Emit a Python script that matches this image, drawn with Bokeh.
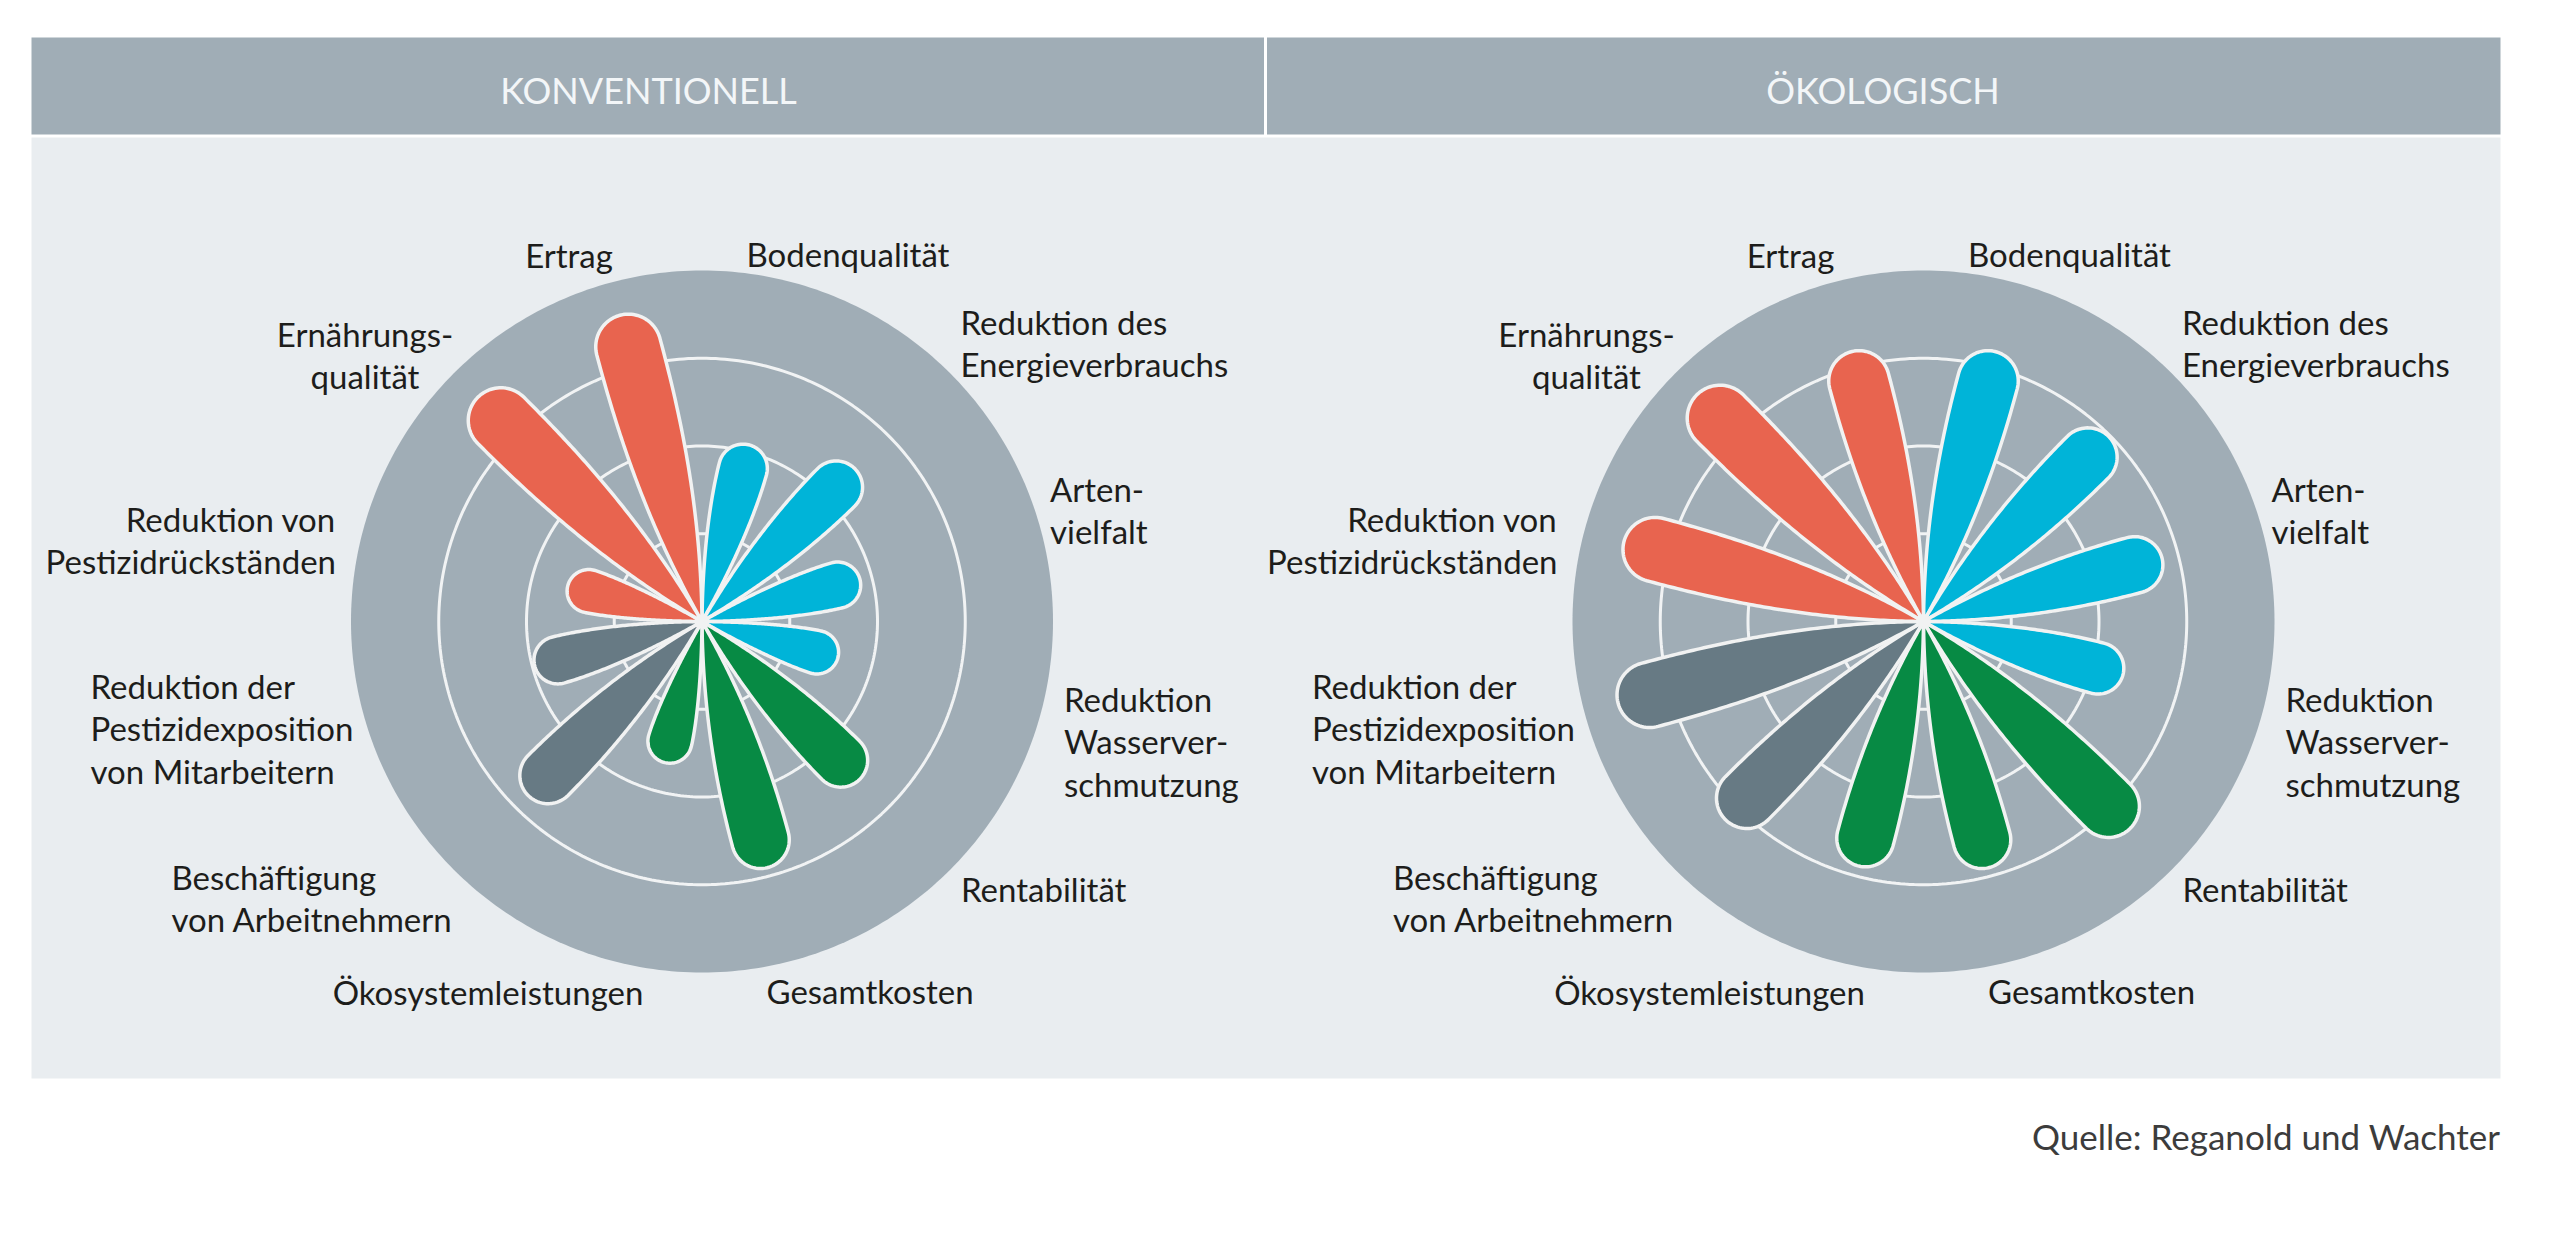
import numpy as np
from bokeh.plotting import figure
from bokeh.models import Range1d
from bokeh.embed import file_html
from bokeh.resources import INLINE
from bokeh.core.properties import value

# ---------------- data ----------------
panel_titles = ["KONVENTIONELL", "ÖKOLOGISCH"]
criteria = [
    "Bodenqualität",
    "Reduktion des Energieverbrauchs",
    "Artenvielfalt",
    "Reduktion Wasserverschmutzung",
    "Rentabilität",
    "Gesamtkosten",
    "Ökosystemleistungen",
    "Beschäftigung von Arbeitnehmern",
    "Reduktion der Pestizidexposition von Mitarbeitern",
    "Reduktion von Pestizidrückständen",
    "Ernährungsqualität",
    "Ertrag",
]
label_lines = [
    ["Bodenqualität"],
    ["Reduktion des", "Energieverbrauchs"],
    ["Arten-", "vielfalt"],
    ["Reduktion", "Wasserver-", "schmutzung"],
    ["Rentabilität"],
    ["Gesamtkosten"],
    ["Ökosystemleistungen"],
    ["Beschäftigung", "von Arbeitnehmern"],
    ["Reduktion der", "Pestizidexposition", "von Mitarbeitern"],
    ["Reduktion von", "Pestizidrückständen"],
    ["Ernährungs-", "qualität"],
    ["Ertrag"],
]
groups = ["Umwelt"] * 4 + ["Wirtschaft"] * 3 + ["Soziales"] * 2 + ["Produktion"] * 3
konventionell = [2.10, 2.48, 1.88, 1.62, 2.56, 2.92, 1.68, 2.82, 1.99, 1.60, 3.63, 3.63]
oekologisch = [3.20, 3.00, 2.83, 2.37, 3.35, 2.92, 2.90, 3.21, 3.62, 3.55, 3.67, 3.20]
ring_levels = [1, 2, 3]
scale_max = 4
source_text = "Quelle: Reganold und Wachter"

group_colors = {
    "Umwelt": "#00B4D8",
    "Wirtschaft": "#078A44",
    "Soziales": "#677A84",
    "Produktion": "#E8644F",
}

# ---------------- layout ----------------
W, H = 2544, 1231
LEFT, RIGHT = 31, 2500
HEAD_TOP, HEAD_BOT = 37, 134
BODY_TOP, BODY_BOT = 137, 1078
DIV_X = 1265
centers = [(701.5, 621.0), (1923.0, 621.0)]
DISK_R = 351.0
UNIT = DISK_R / scale_max
LINE_H = 42.5
FONT = value("Lato")
LABEL_SHIFT = -12  # baseline correction

# label anchors relative to the flower centre: (dx, dy of first baseline, align)
label_layout = [
    (44.5, -356, "left"),
    (258.5, -288, "left"),
    (348, -121, "left"),
    (362, 89, "left"),
    (259, 279, "left"),
    (64.5, 381, "left"),
    (-214, 382, "center"),
    (-530.5, 267, "left"),
    (-611.5, 76, "left"),
    (-366, -91, "right"),
    (-337, -276, "center"),
    (-133, -355, "center"),
]

p = figure(width=W, height=H, x_range=Range1d(0, W), y_range=Range1d(H, 0),
           output_backend="svg", toolbar_location=None, min_border=0)
p.axis.visible = False
p.xgrid.visible = False
p.ygrid.visible = False
p.outline_line_color = None
p.background_fill_color = "white"
p.border_fill_color = "white"

# header bands and body panel
p.quad(left=[LEFT, DIV_X + 1.5], right=[DIV_X - 1.5, RIGHT], top=[HEAD_TOP] * 2,
       bottom=[HEAD_BOT] * 2, fill_color="#A0ADB6", line_color=None)
p.quad(left=[LEFT], right=[RIGHT], top=[BODY_TOP], bottom=[BODY_BOT],
       fill_color="#E9EDF0", line_color=None)

p.text(x=[(LEFT + DIV_X) / 2, (DIV_X + RIGHT) / 2], y=[89, 89], text=panel_titles,
       text_align="center", text_baseline="alphabetic", text_font=FONT,
       text_font_size="36px", text_color="#F3F6F8")

theta_full = np.linspace(0, 2 * np.pi, 361)
HALF_OPEN = np.tan(np.radians(14.5))


def petal(cx, cy, angle_deg, length_u):
    L = length_u * UNIT - 1.5
    rt = 13 + 0.062 * L
    d = L - rt
    q = max(1.2, HALF_OPEN * d / rt)
    u1 = np.linspace(0, d, 80)
    w1 = rt * (1 - (1 - u1 / d) ** q)
    t = np.linspace(np.pi / 2, -np.pi / 2, 50)
    u2 = d + rt * np.cos(t)
    w2 = rt * np.sin(t)
    u = np.concatenate([u1, u2, u1[::-1]])
    v = np.concatenate([w1, w2, -w1[::-1]])
    a = np.radians(angle_deg)
    ex, ey = np.sin(a), -np.cos(a)
    qx, qy = np.cos(a), np.sin(a)
    return list(cx + u * ex + v * qx), list(cy + u * ey + v * qy)


for (cx, cy), vals in zip(centers, [konventionell, oekologisch]):
    # disk
    p.patch(x=cx + DISK_R * np.cos(theta_full), y=cy + DISK_R * np.sin(theta_full),
            fill_color="#A0ADB6", line_color=None)
    # rings
    for lvl in ring_levels:
        r = lvl * UNIT
        p.line(x=cx + r * np.cos(theta_full), y=cy + r * np.sin(theta_full),
               line_color="#F1F3F4", line_width=3)
    # petals
    xs, ys, cols = [], [], []
    for i, v in enumerate(vals):
        px_, py_ = petal(cx, cy, 15 + 30 * i, v)
        xs.append(px_)
        ys.append(py_)
        cols.append(group_colors[groups[i]])
    p.patches(xs=xs, ys=ys, fill_color=cols, line_color="#F1F2F2", line_width=3.5,
              line_join="round")
    # labels
    by_align = {"left": ([], [], []), "center": ([], [], []), "right": ([], [], [])}
    for lines, (dx, dy, al) in zip(label_lines, label_layout):
        for k, ln in enumerate(lines):
            bx, byy, bt = by_align[al]
            bx.append(cx + dx)
            byy.append(cy + dy + k * LINE_H + LABEL_SHIFT)
            bt.append(ln)
    for al, (bx, byy, bt) in by_align.items():
        if bt:
            p.text(x=bx, y=byy, text=bt, text_align=al, text_baseline="alphabetic",
                   text_font=FONT, text_font_size="33px", text_color="#1D1D1B")

p.text(x=[RIGHT], y=[1135], text=[source_text], text_align="right",
       text_baseline="alphabetic", text_font=FONT, text_font_size="35px",
       text_color="#3C3C3C")

open("out.html", "w").write(file_html(p, INLINE))
